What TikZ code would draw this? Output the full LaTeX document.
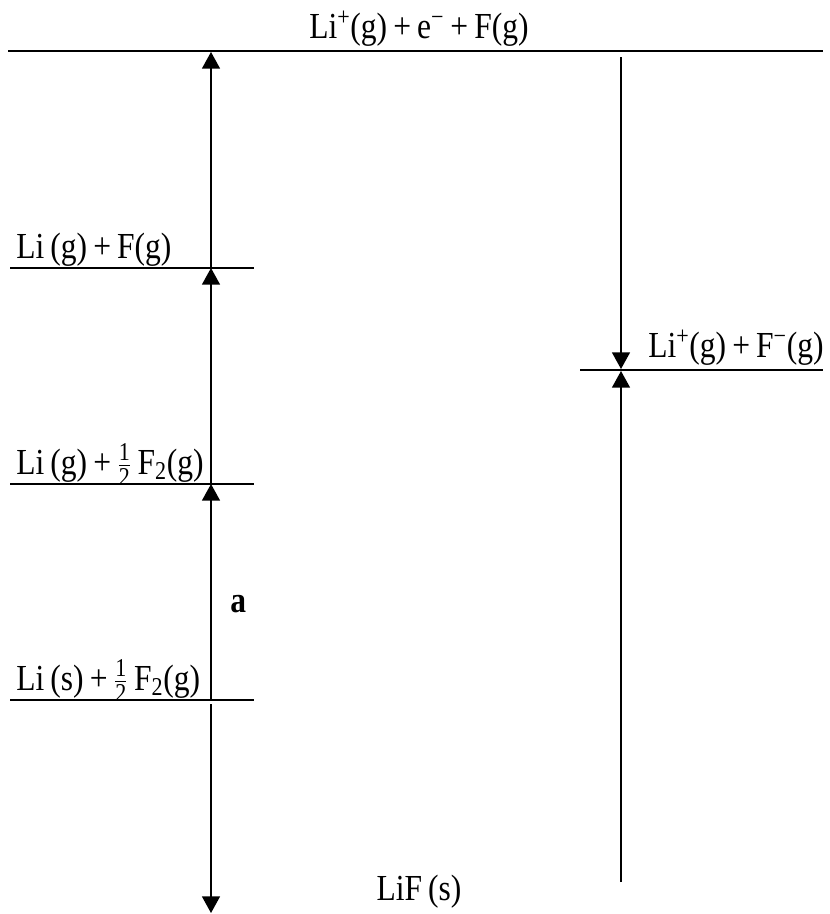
\documentclass[tikz,border=0pt]{standalone}
\usepackage{amsmath}
\usepackage{fontspec}
\setmainfont[FakeStretch=0.86]{Liberation Serif}
\usetikzlibrary{arrows.meta}
\newcommand{\hf}{$\tfrac{\text{1}}{\text{2}}$}
\tikzset{
  level/.style={line width=1.3pt},
  lbl/.style={anchor=base west, inner sep=0pt, font=\fontsize{27.5}{31}\selectfont},
  conn/.style={line width=1.1pt, -{Triangle[width=13.5pt,length=12.5pt]}},
  plain/.style={line width=1.1pt}
}
\begin{document}
\begin{tikzpicture}[x=0.75pt,y=-0.75pt]
\useasboundingbox (0,0) rectangle (829,914);
% levels
\coordinate (t1) at (8,51); \coordinate (t2) at (823,51);
\coordinate (a1) at (10,268); \coordinate (a2) at (254,268);
\coordinate (b1) at (10,484); \coordinate (b2) at (254,484);
\coordinate (c1) at (10,700); \coordinate (c2) at (254,700);
\coordinate (r1) at (580,370); \coordinate (r2) at (823,370);
\draw[level] (t1) -- (t2);
\draw[level] (a1) -- (a2);
\draw[level] (b1) -- (b2);
\draw[level] (c1) -- (c2);
\draw[level] (r1) -- (r2);
% labels
\node[lbl, anchor=base] (top) at (419,38) {Li\textsuperscript{+}(g)\,+\,e\textsuperscript{−}\,+\,F(g)};
\node[lbl] (la) at (16,258) {Li\,(g)\,+\,F(g)};
\node[lbl] (lb) at (16,474) {Li\,(g)\,+\,\hf\,F\textsubscript{2}(g)};
\node[lbl] (lc) at (16,690) {Li\,(s)\,+\,\hf\,F\textsubscript{2}(g)};
\node[lbl] (lr) at (648,357) {Li\textsuperscript{+}(g)\,+\,F\textsuperscript{−}(g)};
\node[lbl, anchor=base] (lif) at (419,900) {LiF\,(s)};
\node[lbl, font=\fontsize{27.5}{31}\selectfont\bfseries] (la2) at (230,612) {a};
% arrows left
\coordinate (p0) at (211,52);
\coordinate (p1) at (211,268);
\coordinate (p2) at (211,484);
\coordinate (p3) at (211,700);
\coordinate (p3b) at (211,704);
\coordinate (p4) at (211,913);
\draw[conn] (p1) -- (p0);
\draw[conn] (p2) -- (p1);
\draw[conn] (p3) -- (p2);
\draw[conn] (p3b) -- (p4);
% arrows right
\coordinate (q0) at (621,57);
\coordinate (q1) at (621,369);
\coordinate (q2) at (621,371);
\coordinate (q3) at (621,882);
\draw[conn] (q0) -- (q1);
\draw[conn] (q3) -- (q2);
\end{tikzpicture}
\end{document}
